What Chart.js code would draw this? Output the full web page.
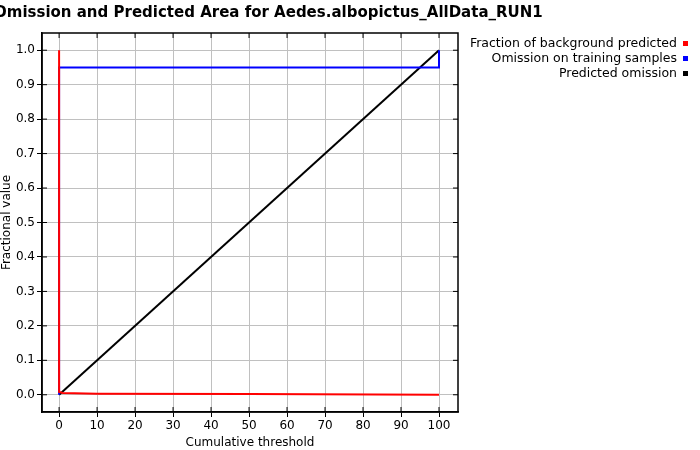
<!DOCTYPE html>
<html><head><meta charset="utf-8">
<script src="https://cdn.jsdelivr.net/npm/chart.js@4/dist/chart.umd.min.js"></script>
<style>
body{margin:0;background:#fff;font-family:"DejaVu Sans",sans-serif}
#wrap{position:relative;width:700px;height:450px;overflow:hidden}
#title{position:absolute;left:-6px;top:3px;font-weight:bold;font-size:15px;white-space:nowrap}
.lg{position:absolute;right:12px;font-size:12.5px;white-space:nowrap}
.lg span{display:inline-block;width:5px;height:5px;margin-left:6px;vertical-align:middle}
</style></head><body>
<div id="wrap">
<canvas id="c" width="700" height="450"></canvas>
<div id="title">Omission and Predicted Area for Aedes.albopictus_AllData_RUN1</div>
<div class="lg" style="top:35px">Fraction of background predicted<span style="background:#f00"></span></div>
<div class="lg" style="top:50px">Omission on training samples<span style="background:#00f"></span></div>
<div class="lg" style="top:65px">Predicted omission<span style="background:#000"></span></div>
</div>
<script>
const bgX = [0, 0, 1, 10, 50, 100];
const bgY = [1.0, 0.008, 0.005, 0.003, 0.002, 0.0];
const omX = [0, 0, 100, 100];
const omY = [0.0, 0.95, 0.95, 1.0];
const predX = [0, 100];
const predY = [0.0, 1.0];
const xTicks = [0,10,20,30,40,50,60,70,80,90,100];
const yTicks = [0,0.1,0.2,0.3,0.4,0.5,0.6,0.7,0.8,0.9,1.0];

const pts = (xs, ys) => xs.map((x, i) => ({x, y: ys[i]}));
const ds = (xs, ys, c) => ({data: pts(xs, ys), borderColor: c, borderWidth: 2, showLine: true, pointRadius: 0, fill: false});

// full frame with inward ticks on all four sides
const frame = {
  id: 'frame',
  afterDatasetsDraw(chart) {
    const {ctx, chartArea: a, scales: {x, y}} = chart;
    ctx.save();
    ctx.strokeStyle = '#000';
    ctx.lineWidth = 1.5;
    ctx.strokeRect(a.left, a.top, a.right - a.left, a.bottom - a.top);
    ctx.lineWidth = 1;
    ctx.beginPath();
    xTicks.forEach(v => { const p = x.getPixelForValue(v);
      ctx.moveTo(p, a.bottom); ctx.lineTo(p, a.bottom - 5);
      ctx.moveTo(p, a.top); ctx.lineTo(p, a.top + 5); });
    yTicks.forEach(v => { const p = y.getPixelForValue(v);
      ctx.moveTo(a.left, p); ctx.lineTo(a.left + 5, p);
      ctx.moveTo(a.right, p); ctx.lineTo(a.right - 5, p); });
    ctx.stroke();
    ctx.restore();
  }
};

new Chart(document.getElementById('c'), {
  type: 'scatter',
  data: {datasets: [ds(bgX, bgY, '#ff0000'), ds(omX, omY, '#0000ff'), ds(predX, predY, '#000')]},
  plugins: [frame],
  options: {
    responsive: false, animation: false,
    layout: {padding: {top: 33, right: 242, left: 0, bottom: 0}},
    plugins: {legend: {display: false}, tooltip: {enabled: false}},
    scales: {
      x: {type: 'linear', min: -4.5, max: 105,
        afterBuildTicks: s => { s.ticks = xTicks.map(v => ({value: v})); },
        afterFit: s => { s.height = 38; },
        border: {color: '#000', width: 1.5},
        grid: {color: '#c0c0c0', tickLength: 5, tickColor: '#000'},
        ticks: {color: '#000', font: {family: 'DejaVu Sans', size: 12}, maxRotation: 0, padding: 2},
        title: {display: true, text: 'Cumulative threshold', color: '#000', font: {family: 'DejaVu Sans', size: 12}, padding: 0}},
      y: {min: -0.05, max: 1.05,
        afterBuildTicks: s => { s.ticks = yTicks.map(v => ({value: v})); },
        afterFit: s => { s.width = 42; },
        border: {color: '#000', width: 1.5},
        grid: {color: '#c0c0c0', tickLength: 5, tickColor: '#000'},
        ticks: {color: '#000', font: {family: 'DejaVu Sans', size: 12}, padding: 2, callback: v => v.toFixed(1)},
        title: {display: true, text: 'Fractional value', color: '#000', font: {family: 'DejaVu Sans', size: 12}, padding: 0}}
    }
  }
});
</script>
</body></html>
